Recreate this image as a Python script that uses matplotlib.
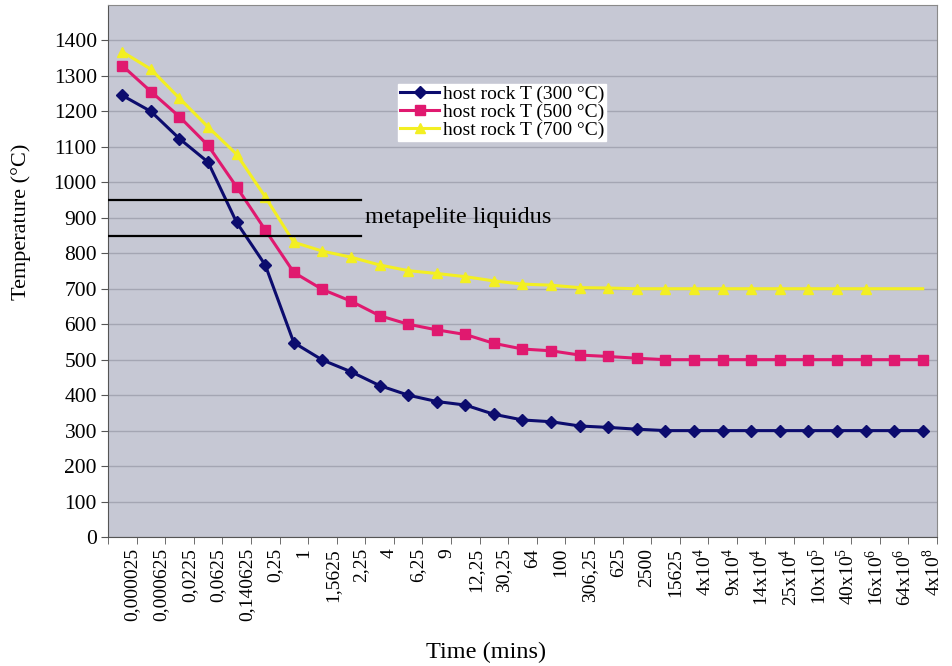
import numpy as np
import matplotlib
matplotlib.use('Agg')
import matplotlib.pyplot as plt
import matplotlib.transforms as mtransforms

plt.rcParams['font.family'] = ['Liberation Serif', 'DejaVu Serif']
plt.rcParams['mathtext.fontset'] = 'custom'
plt.rcParams['mathtext.rm'] = 'Liberation Serif'

time_labels = ['0,000025', '0,000625', '0,0225', '0,0625', '0,140625', '0,25', '1',
               '1,5625', '2,25', '4', '6,25', '9', '12,25', '30,25', '64', '100',
               '306,25', '625', '2500', '15625', r'4x10$^{4}$', r'9x10$^{4}$',
               r'14x10$^{4}$', r'25x10$^{4}$', r'10x10$^{5}$', r'40x10$^{5}$',
               r'16x10$^{6}$', r'64x10$^{6}$', r'4x10$^{8}$']

temp_300 = [1245, 1200, 1123, 1057, 887, 767, 548, 499, 466, 427, 400, 382, 372, 346,
            330, 325, 313, 309, 304, 300, 300, 300, 300, 300, 300, 300, 300, 300, 300]
temp_500 = [1329, 1256, 1185, 1104, 987, 866, 746, 698, 665, 624, 600, 584, 571, 546,
            530, 525, 513, 509, 504, 500, 500, 500, 500, 500, 500, 500, 500, 500, 500]
temp_700 = [1368, 1319, 1237, 1156, 1079, 959, 831, 806, 789, 767, 751, 743, 734, 722,
            713, 710, 703, 702, 700, 700, 700, 700, 700, 700, 700, 700, 700, 700, 700]

liquidus = [850, 950]


if __name__ == '__main__':
    fig = plt.figure(figsize=(9.53, 6.66), dpi=100)
    ax = fig.add_axes([108/953, 1 - 537/666, 829/953, 532/666])
    ax.set_facecolor('#c6c8d4')

    x = np.arange(len(time_labels))
    ax.plot(x, temp_300, color='#0c0c6e', lw=2.2, marker='D', ms=6, label='host rock T (300 °C)', zorder=4)
    ax.plot(x, temp_500, color='#e0196f', lw=2.2, marker='s', ms=7, label='host rock T (500 °C)', zorder=4)
    ax.plot(x, temp_700, color='#f3ef22', lw=2.2, marker='^', ms=7, markevery=list(range(27)),
            label='host rock T (700 °C)', zorder=3)

    for t in liquidus:
        ax.axhline(t, xmin=0, xmax=0.305, color='black', lw=1.6, zorder=5)
    ax.text(0.31, np.mean(liquidus), 'metapelite liquidus', fontsize=17.5, va='center',
            transform=mtransforms.blended_transform_factory(ax.transAxes, ax.transData))

    ax.set_xlim(-0.5, len(time_labels) - 0.5)
    ax.set_ylim(0, 1500)
    ax.set_yticks(np.arange(0, 1401, 100))
    ax.yaxis.grid(True, color='#a4a6b3', lw=1)
    ax.set_axisbelow(True)
    ax.tick_params(axis='y', labelsize=15.5, length=5, color='#555555', pad=3)

    ax.set_xticks(x)
    ax.set_xticklabels(time_labels, rotation=90, fontsize=14, va='top')
    ax.set_xticks(np.arange(-0.5, len(time_labels)), minor=True)
    ax.tick_params(axis='x', which='major', length=0, pad=8)
    ax.tick_params(axis='x', which='minor', length=5, color='#555555')
    shift = mtransforms.ScaledTranslation(10/100, 0, fig.dpi_scale_trans)
    for lab in ax.get_xticklabels():
        lab.set_transform(lab.get_transform() + shift)

    for side in ['top', 'right']:
        ax.spines[side].set_color('#8a8a8a')
    ax.spines['left'].set_color('#555555')
    ax.spines['bottom'].set_color('#555555')

    ax.set_xlabel('Time (mins)', fontsize=17.5)
    ax.xaxis.set_label_coords(0.456, -0.198)
    ax.set_ylabel('Temperature (°C)', fontsize=16)
    ax.yaxis.set_label_coords(-0.093, 0.592)

    leg = ax.legend(loc='upper left', bbox_to_anchor=(0.35, 0.852), fontsize=14,
                    frameon=True, fancybox=False, borderpad=0.1, labelspacing=0.0,
                    handlelength=2.0, handletextpad=0.2, borderaxespad=0)
    leg.get_frame().set_edgecolor('white')
    leg.get_frame().set_facecolor('white')
    leg.get_frame().set_alpha(1)

    plt.savefig('out.png', dpi=100)
    # plt.show()
